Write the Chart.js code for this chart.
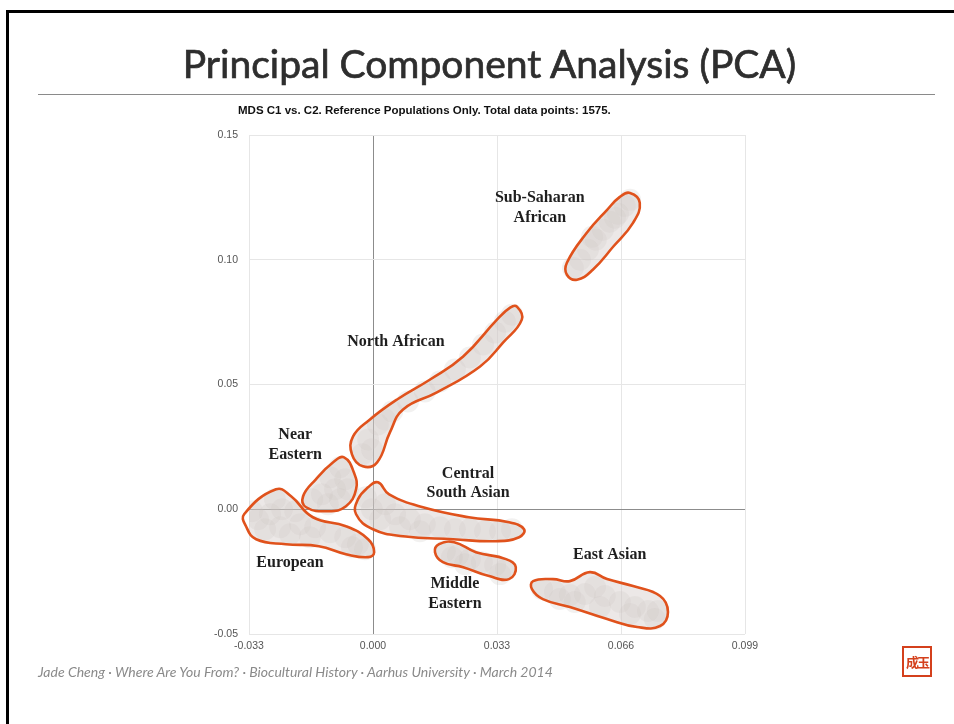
<!DOCTYPE html>
<html lang="en">
<head>
<meta charset="UTF-8">
<title>Principal Component Analysis (PCA)</title>
<script src="https://cdn.jsdelivr.net/npm/chart.js@4.4.0/dist/chart.umd.min.js"></script>
<style>
    * { box-sizing: border-box; }
    body {
        margin: 0;
        width: 954px;
        height: 724px;
        position: relative;
        overflow: hidden;
        background: #fff;
        font-family: "Liberation Sans", Arial, sans-serif;
    }
    .frame {
        position: absolute;
        left: 6px;
        top: 10px;
        width: 1000px;
        height: 800px;
        border-top: 3px solid #000;
        border-left: 3px solid #000;
    }
    h1 {
        position: absolute;
        top: 40px;
        left: 0;
        width: 979px;
        margin: 0;
        text-align: center;
        font: 39px Lato, sans-serif;
        color: #2e2e2e;
        -webkit-text-stroke: 0.7px #2e2e2e;
        z-index: 2;
    }
    .rule {
        position: absolute;
        left: 38px;
        top: 94px;
        width: 897px;
        height: 0;
        border-top: 1px solid #8a8a8a;
    }
    .subtitle {
        position: absolute;
        left: 238px;
        top: 104px;
        font: bold 11.5px "Liberation Sans", Arial, sans-serif;
        color: #111;
        z-index: 2;
    }
    .footer {
        position: absolute;
        left: 38px;
        top: 663px;
        font: italic 14px Lato, sans-serif;
        color: #8a8a8a;
        z-index: 2;
    }
    .seal {
        position: absolute;
        left: 902px;
        top: 646px;
        width: 30px;
        height: 31px;
        border: 2px solid #d4401c;
        color: #d4401c;
        font: bold 13px "Noto Sans CJK SC", sans-serif;
        line-height: 27px;
        text-align: center;
        letter-spacing: -2px;
        z-index: 2;
    }
    .chart-box {
        position: absolute;
        left: 0;
        top: 0;
        width: 954px;
        height: 724px;
        z-index: 1;
    }
</style>
</head>
<body>
    <div class="frame"></div>
    <h1>Principal Component Analysis (PCA)</h1>
    <div class="rule"></div>
    <div class="subtitle">MDS C1 vs. C2. Reference Populations Only. Total data points: 1575.</div>
    <div class="chart-box"><canvas id="pca" width="954" height="724"></canvas></div>
    <div class="footer">Jade Cheng · Where Are You From? · Biocultural History · Aarhus University · March 2014</div>
    <div class="seal">成玉</div>

<script>
    // axis ticks
    const xTicks = [-0.033, 0.000, 0.033, 0.066, 0.099];
    const yTicks = [-0.05, 0.00, 0.05, 0.10, 0.15];

    // sample points (C1, C2)
    const europeanX = [-0.0306, -0.0274, -0.0242, -0.0207, -0.0247, -0.0287, -0.0194, -0.0154, -0.0114, -0.0074, -0.0040, -0.0021, -0.0056, -0.0221, -0.0168, -0.0261, -0.0322];
    const europeanY = [-0.0040, -0.0020, 0.0000, -0.0008, -0.0072, -0.0080, -0.0060, -0.0072, -0.0092, -0.0112, -0.0140, -0.0160, -0.0152, -0.0100, -0.0112, 0.0040, -0.0008];
    const nearEastX = [-0.0088, -0.0074, -0.0101, -0.0136, -0.0162, -0.0120, -0.0088, -0.0067, -0.0114];
    const nearEastY = [0.0168, 0.0120, 0.0080, 0.0060, 0.0040, 0.0020, 0.0040, 0.0080, 0.0128];
    const northAfX = [-0.0029, -0.0013, 0.0013, 0.0051, 0.0093, 0.0138, 0.0178, 0.0218, 0.0258, 0.0293, 0.0325, 0.0351, 0.0370, -0.0003, 0.0032];
    const northAfY = [0.0220, 0.0280, 0.0340, 0.0392, 0.0432, 0.0472, 0.0512, 0.0560, 0.0608, 0.0660, 0.0708, 0.0752, 0.0780, 0.0240, 0.0360];
    const csAsiaX = [-0.0019, -0.0003, 0.0019, 0.0059, 0.0098, 0.0138, 0.0178, 0.0218, 0.0258, 0.0298, 0.0338, 0.0370, 0.0032, 0.0072, 0.0125];
    const csAsiaY = [0.0048, 0.0000, -0.0040, -0.0020, -0.0040, -0.0060, -0.0072, -0.0080, -0.0080, -0.0088, -0.0088, -0.0080, 0.0020, -0.0072, -0.0088];
    const midEastX = [0.0191, 0.0226, 0.0258, 0.0290, 0.0325, 0.0354, 0.0338, 0.0245, 0.0210];
    const midEastY = [-0.0168, -0.0184, -0.0200, -0.0212, -0.0224, -0.0240, -0.0260, -0.0220, -0.0192];
    const subSahX = [0.0532, 0.0551, 0.0572, 0.0593, 0.0612, 0.0630, 0.0652, 0.0670, 0.0684, 0.0583, 0.0644];
    const subSahY = [0.0968, 0.1000, 0.1040, 0.1080, 0.1120, 0.1152, 0.1184, 0.1216, 0.1240, 0.1092, 0.1168];
    const eastAsX = [0.0450, 0.0484, 0.0524, 0.0564, 0.0591, 0.0617, 0.0657, 0.0697, 0.0732, 0.0758, 0.0750, 0.0684, 0.0604, 0.0537, 0.0497];
    const eastAsY = [-0.0320, -0.0332, -0.0344, -0.0340, -0.0312, -0.0348, -0.0372, -0.0392, -0.0408, -0.0408, -0.0440, -0.0420, -0.0392, -0.0372, -0.0360];

    // hand-drawn outlines round each group
    const europeanLineX = [-0.0343, -0.0258, -0.0218, -0.0160, -0.0072, -0.0013, 0.0003, -0.0013, -0.0072, -0.0144, -0.0232, -0.0311, -0.0338];
    const europeanLineY = [-0.0020, 0.0080, 0.0052, -0.0032, -0.0068, -0.0120, -0.0172, -0.0192, -0.0180, -0.0148, -0.0140, -0.0120, -0.0068];
    const nearEastLineX = [-0.0077, -0.0051, -0.0045, -0.0072, -0.0120, -0.0178, -0.0186, -0.0152, -0.0106];
    const nearEastLineY = [0.0208, 0.0148, 0.0080, 0.0012, -0.0008, 0.0008, 0.0052, 0.0120, 0.0188];
    const northAfLineX = [0.0383, 0.0396, 0.0346, 0.0285, 0.0170, 0.0080, 0.0045, 0.0011, -0.0027, -0.0056, -0.0053, -0.0008, 0.0064, 0.0152, 0.0240, 0.0330, 0.0365];
    const northAfLineY = [0.0812, 0.0760, 0.0668, 0.0572, 0.0468, 0.0400, 0.0308, 0.0188, 0.0172, 0.0220, 0.0292, 0.0360, 0.0440, 0.0520, 0.0612, 0.0760, 0.0808];
    const csAsiaLineX = [0.0013, 0.0043, 0.0133, 0.0255, 0.0362, 0.0402, 0.0389, 0.0327, 0.0213, 0.0080, 0.0000, -0.0045, -0.0040, -0.0013];
    const csAsiaLineY = [0.0108, 0.0060, 0.0008, -0.0032, -0.0052, -0.0080, -0.0112, -0.0128, -0.0120, -0.0108, -0.0080, -0.0020, 0.0040, 0.0088];
    const midEastLineX = [0.0176, 0.0216, 0.0274, 0.0354, 0.0380, 0.0362, 0.0309, 0.0240, 0.0186, 0.0165];
    const midEastLineY = [-0.0140, -0.0132, -0.0172, -0.0200, -0.0232, -0.0280, -0.0268, -0.0232, -0.0212, -0.0172];
    const subSahLineX = [0.0684, 0.0710, 0.0692, 0.0639, 0.0585, 0.0543, 0.0516, 0.0516, 0.0569, 0.0623, 0.0657];
    const subSahLineY = [0.1268, 0.1228, 0.1148, 0.1052, 0.0960, 0.0920, 0.0940, 0.0988, 0.1108, 0.1200, 0.1252];
    const eastAsLineX = [0.0426, 0.0479, 0.0524, 0.0577, 0.0623, 0.0692, 0.0764, 0.0785, 0.0764, 0.0703, 0.0623, 0.0524, 0.0452, 0.0423];
    const eastAsLineY = [-0.0288, -0.0280, -0.0288, -0.0252, -0.0280, -0.0308, -0.0348, -0.0412, -0.0468, -0.0472, -0.0440, -0.0392, -0.0360, -0.0320];

    // group labels
    const labelText = ['Sub-Saharan', 'African', 'North African', 'Near', 'Eastern', 'Central', 'South Asian', 'European', 'Middle', 'Eastern', 'East Asian'];
    const labelX = [0.0444, 0.0444, 0.0061, -0.0207, -0.0207, 0.0253, 0.0253, -0.0221, 0.0218, 0.0218, 0.0630];
    const labelY = [0.1248, 0.1168, 0.0672, 0.0300, 0.0220, 0.0140, 0.0064, -0.0216, -0.0300, -0.0380, -0.0184];

    const pairs = (xs, ys) => xs.map((x, i) => ({ x: x, y: ys[i] }));

    function cloud(xs, ys) {
        return {
            type: 'scatter',
            data: pairs(xs, ys),
            pointRadius: 11,
            pointBackgroundColor: 'rgba(190, 183, 180, 0.2)',
            pointBorderWidth: 0,
            order: 2
        };
    }

    function outline(xs, ys) {
        return {
            type: 'line',
            data: pairs(xs, ys),
            closed: true,
            showLine: true,
            borderColor: '#e0521c',
            backgroundColor: 'rgba(212, 205, 202, 0.45)',
            borderWidth: 2.6,
            pointRadius: 0,
            tension: 0.45,
            spanGaps: true,
            fill: 'shape',
            clip: false,
            order: 1
        };
    }

    // make outline paths close smoothly back to their first point
    const loopPlugin = {
        id: 'closeLoops',
        afterDatasetsUpdate(chart) {
            chart.data.datasets.forEach((ds, i) => {
                if (!ds.closed) return;
                const line = chart.getDatasetMeta(i).dataset;
                if (!line) return;
                line._loop = true;
                line._fullLoop = true;
                line._pointsUpdated = false;
                delete line._segments;
                delete line._path;
            });
        }
    };

    const labelPlugin = {
        id: 'groupLabels',
        afterDatasetsDraw(chart) {
            const { ctx, scales: { x, y } } = chart;
            ctx.save();
            ctx.font = 'bold 16px "Liberation Serif", serif';
            ctx.fillStyle = '#1e1e1e';
            ctx.textAlign = 'center';
            ctx.textBaseline = 'middle';
            labelText.forEach((t, i) => {
                ctx.fillText(t, x.getPixelForValue(labelX[i]), y.getPixelForValue(labelY[i]));
            });
            ctx.restore();
        }
    };

    const gridColor = c => (c.tick && Math.abs(c.tick.value) < 1e-9) ? '#8c8c8c' : '#e6e6e6';

    new Chart(document.getElementById('pca'), {
        type: 'scatter',
        data: {
            datasets: [
                cloud(europeanX, europeanY),
                cloud(nearEastX, nearEastY),
                cloud(northAfX, northAfY),
                cloud(csAsiaX, csAsiaY),
                cloud(midEastX, midEastY),
                cloud(subSahX, subSahY),
                cloud(eastAsX, eastAsY),
                outline(europeanLineX, europeanLineY),
                outline(nearEastLineX, nearEastLineY),
                outline(northAfLineX, northAfLineY),
                outline(csAsiaLineX, csAsiaLineY),
                outline(midEastLineX, midEastLineY),
                outline(subSahLineX, subSahLineY),
                outline(eastAsLineX, eastAsLineY)
            ]
        },
        options: {
            responsive: false,
            animation: false,
            events: [],
            layout: { padding: { top: 135, right: 209, bottom: 0, left: 0 } },
            plugins: {
                legend: { display: false },
                tooltip: { enabled: false },
                title: { display: false }
            },
            scales: {
                x: {
                    type: 'linear',
                    min: xTicks[0],
                    max: xTicks[xTicks.length - 1],
                    afterBuildTicks: s => { s.ticks = xTicks.map(v => ({ value: v })); },
                    afterFit: s => { s.height = 90; },
                    border: { display: false },
                    grid: { color: gridColor, drawTicks: false },
                    ticks: {
                        callback: v => v.toFixed(3),
                        color: '#555',
                        font: { size: 10.5, family: '"Liberation Sans", Arial' },
                        padding: 6,
                        maxRotation: 0
                    }
                },
                y: {
                    type: 'linear',
                    min: yTicks[0],
                    max: yTicks[yTicks.length - 1],
                    afterBuildTicks: s => { s.ticks = yTicks.map(v => ({ value: v })); },
                    afterFit: s => { s.width = 249; },
                    border: { display: false },
                    grid: { color: gridColor, drawTicks: false },
                    ticks: {
                        callback: v => v.toFixed(2),
                        color: '#555',
                        font: { size: 10.5, family: '"Liberation Sans", Arial' },
                        padding: 11
                    }
                }
            }
        },
        plugins: [loopPlugin, labelPlugin]
    });
</script>
</body>
</html>
